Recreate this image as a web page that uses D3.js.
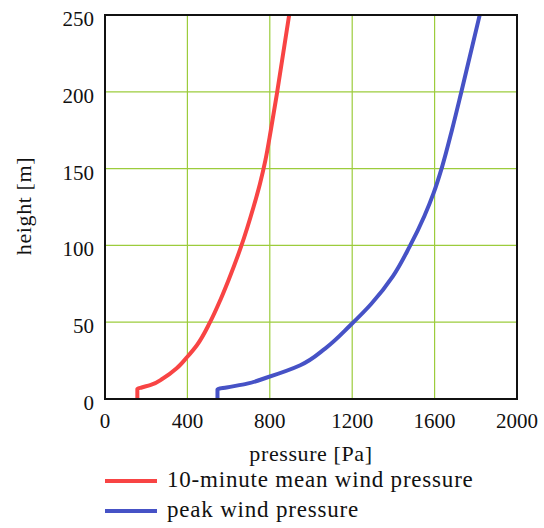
<!DOCTYPE html>
<html>
<head>
<meta charset="utf-8">
<script src="https://cdn.jsdelivr.net/npm/d3@7"></script>
<style>
  body { margin: 0; background: #fff; }
  #chart text { font-family: "Liberation Serif", "DejaVu Serif", serif; }
</style>
</head>
<body>
<div id="chart"></div>
<script>
const width = 544;
const height = 528;

// values
const meanHeights = [0, 6.5, 7.5, 9, 13.5, 20, 27.5, 35, 50, 64.5, 77.5, 99, 125, 140, 155, 175, 200, 250];
const meanPressure = [157, 157, 178, 219, 283, 348, 400, 446, 510, 560, 600, 660, 721, 752, 778, 805, 836, 894];

const peakHeights = [0, 6.3, 7.5, 10, 14, 22, 33, 48, 62, 80, 99, 119, 134, 151, 175, 200, 250];
const peakPressure = [546, 546, 590, 690, 786, 948, 1070, 1191, 1293, 1398, 1478, 1550, 1595, 1636, 1684, 1730, 1819];

const xTicks = [0, 400, 800, 1200, 1600, 2000];
const yTicks = [0, 50, 100, 150, 200, 250];

const seriesNames = ["10-minute mean wind pressure", "peak wind pressure"];
const seriesColors = ["#f84444", "#4652c6"];

const x = d3.scaleLinear().domain([0, 2000]).range([105, 517]);
const y = d3.scaleLinear().domain([0, 250]).range([399, 15]);

const svg = d3.select("#chart")
    .append("svg")
    .attr("width", width)
    .attr("height", height);

// grid
const grid = svg.append("g")
    .attr("stroke", "#9ccc3c")
    .attr("stroke-width", 1.2);

grid.selectAll("line.v")
    .data(xTicks.slice(1, -1))
    .join("line")
    .attr("x1", d => x(d)).attr("x2", d => x(d))
    .attr("y1", y(0)).attr("y2", y(250));

grid.selectAll("line.h")
    .data(yTicks.slice(1, -1))
    .join("line")
    .attr("x1", x(0)).attr("x2", x(2000))
    .attr("y1", d => y(d)).attr("y2", d => y(d));

// curves
const series = [
    meanHeights.map((h, i) => ({ h, p: meanPressure[i] })),
    peakHeights.map((h, i) => ({ h, p: peakPressure[i] }))
];

const line = d3.line()
    .x(d => x(d.p))
    .y(d => y(d.h))
    .curve(d3.curveMonotoneY);

svg.append("g")
    .selectAll("path")
    .data(series)
    .join("path")
    .attr("fill", "none")
    .attr("stroke", (d, i) => seriesColors[i])
    .attr("stroke-width", 4)
    .attr("stroke-linejoin", "round")
    .attr("d", line);

// frame
svg.append("rect")
    .attr("x", x(0)).attr("y", y(250))
    .attr("width", x(2000) - x(0))
    .attr("height", y(0) - y(250))
    .attr("fill", "none")
    .attr("stroke", "#111")
    .attr("stroke-width", 2);

// tick labels
svg.append("g")
    .selectAll("text")
    .data(xTicks)
    .join("text")
    .attr("x", d => x(d))
    .attr("y", 428)
    .attr("text-anchor", "middle")
    .attr("font-size", 21)
    .attr("fill", "#111")
    .text(d => d);

svg.append("g")
    .selectAll("text")
    .data(yTicks)
    .join("text")
    .attr("x", 94)
    .attr("y", d => y(d) + 11)
    .attr("text-anchor", "end")
    .attr("font-size", 21)
    .attr("fill", "#111")
    .text(d => d);

// axis titles
svg.append("text")
    .attr("x", 311)
    .attr("y", 461)
    .attr("text-anchor", "middle")
    .attr("font-size", 22)
    .attr("letter-spacing", 0.6)
    .attr("fill", "#111")
    .text("pressure [Pa]");

svg.append("text")
    .attr("transform", "translate(31,206) rotate(-90)")
    .attr("text-anchor", "middle")
    .attr("font-size", 22)
    .attr("letter-spacing", 0.6)
    .attr("fill", "#111")
    .text("height [m]");

// legend
const legend = svg.append("g")
    .selectAll("g")
    .data(seriesNames)
    .join("g")
    .attr("transform", (d, i) => `translate(0,${481 + i * 30})`);

legend.append("line")
    .attr("x1", 105).attr("x2", 157)
    .attr("stroke", (d, i) => seriesColors[i])
    .attr("stroke-width", 4);

legend.append("text")
    .attr("x", 167)
    .attr("y", 6)
    .attr("font-size", 23)
    .attr("letter-spacing", 0.8)
    .attr("fill", "#111")
    .text(d => d);
</script>
</body>
</html>
